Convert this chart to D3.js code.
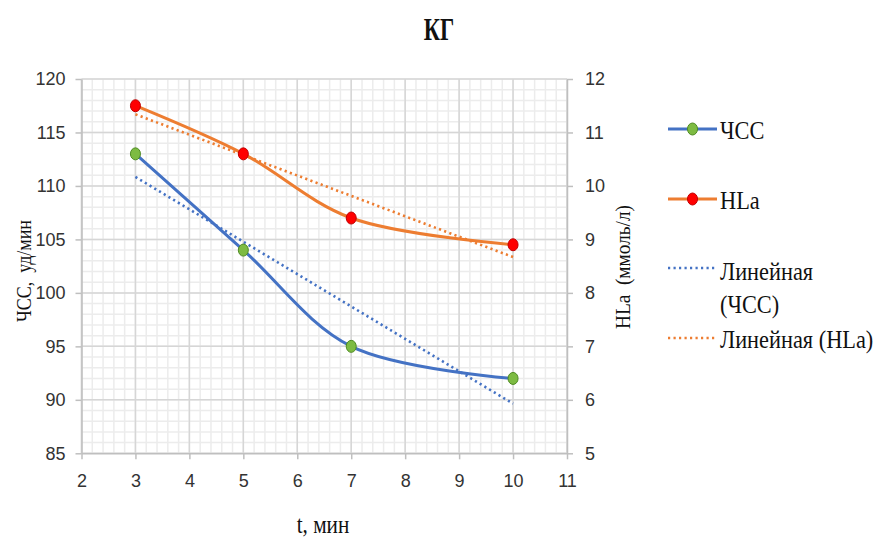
<!DOCTYPE html>
<html>
<head>
<meta charset="utf-8">
<script src="https://cdn.jsdelivr.net/npm/d3@7"></script>
<style>
  html, body { margin: 0; padding: 0; background: #fff; }
  svg { display: block; }
  svg text { white-space: pre; }
</style>
</head>
<body>
<svg id="chart" width="877" height="539"></svg>
<script>
// Time points, min
const times = [3, 5, 7, 10];
// Heart rate, beats/min (left axis)
const hrValues = [113, 104, 95, 92];
// Blood lactate, mmol/l (right axis)
const hlaValues = [11.5, 10.6, 9.4, 8.9];

const xTicks = [2, 3, 4, 5, 6, 7, 8, 9, 10, 11];
const yLeftTicks = [85, 90, 95, 100, 105, 110, 115, 120];
const yRightTicks = [5, 6, 7, 8, 9, 10, 11, 12];

const titleText = "КГ";
const xTitle = "t, мин";
const yLeftTitle = "ЧСС,  уд/мин";
const yRightTitle = "HLa  (ммоль/л)";
const legendLabels = ["ЧСС", "HLa", ["Линейная", "(ЧСС)"], "Линейная (HLa)"];

const BLUE = "#4472C4", ORANGE = "#ED7D31";
const GREEN_FILL = "#7DBB42", GREEN_STROKE = "#4E8A22";
const RED_FILL = "#FF0000", RED_STROKE = "#C00000";

const svg = d3.select("#chart");
const plot = { left: 81.5, right: 567, top: 79, bottom: 453.3 };

const x = d3.scaleLinear().domain([2, 11]).range([plot.left, plot.right]);
const yL = d3.scaleLinear().domain([85, 120]).range([plot.bottom, plot.top]);
const yR = d3.scaleLinear().domain([5, 12]).range([plot.bottom, plot.top]);

// Minor grid (five subdivisions per major step)
const minorX = d3.range(2, 11.001, 0.2);
const minorY = d3.range(85, 120.001, 1);
const grid = svg.append("g");
grid.selectAll("line.mx").data(minorX).join("line")
  .attr("x1", d => x(d)).attr("x2", d => x(d))
  .attr("y1", plot.top).attr("y2", plot.bottom)
  .attr("stroke", "#ececec").attr("stroke-width", 1.5);
grid.selectAll("line.my").data(minorY).join("line")
  .attr("x1", plot.left).attr("x2", plot.right)
  .attr("y1", d => yL(d)).attr("y2", d => yL(d))
  .attr("stroke", "#ececec").attr("stroke-width", 1.5);
// Major grid
grid.selectAll("line.MX").data(xTicks).join("line")
  .attr("x1", d => x(d)).attr("x2", d => x(d))
  .attr("y1", plot.top).attr("y2", plot.bottom)
  .attr("stroke", "#d6d6d6").attr("stroke-width", 1.5);
grid.selectAll("line.MY").data(yLeftTicks).join("line")
  .attr("x1", plot.left).attr("x2", plot.right)
  .attr("y1", d => yL(d)).attr("y2", d => yL(d))
  .attr("stroke", "#d6d6d6").attr("stroke-width", 1.5);

// Axes
const tickFont = "'Liberation Sans', Arial, sans-serif";
function styleAxis(g) {
  g.select(".domain").attr("stroke", "#bfbfbf").attr("stroke-width", 1.5);
  g.selectAll(".tick line").attr("stroke", "#bfbfbf").attr("stroke-width", 1.5);
  g.selectAll(".tick text").attr("fill", "#333")
    .style("font-family", tickFont).style("font-size", "18px");
}
svg.append("g").attr("transform", `translate(0,${plot.bottom})`)
  .call(d3.axisBottom(x).tickValues(xTicks).tickFormat(d3.format("d"))
    .tickSize(6).tickPadding(15).tickSizeOuter(0))
  .call(styleAxis);
svg.append("g").attr("transform", `translate(${plot.left},0)`)
  .call(d3.axisLeft(yL).tickValues(yLeftTicks).tickFormat(d3.format("d"))
    .tickSize(6).tickPadding(10).tickSizeOuter(0))
  .call(styleAxis);
svg.append("g").attr("transform", `translate(${plot.right},0)`)
  .call(d3.axisRight(yR).tickValues(yRightTicks).tickFormat(d3.format("d"))
    .tickSize(6).tickPadding(12).tickSizeOuter(0))
  .call(styleAxis);

// Linear trend lines (least squares)
function fit(xs, ys) {
  const mx = d3.mean(xs), my = d3.mean(ys);
  const sxy = d3.sum(xs, (v, i) => (v - mx) * (ys[i] - my));
  const sxx = d3.sum(xs, v => (v - mx) ** 2);
  const b = sxy / sxx, a = my - b * mx;
  return t => a + b * t;
}
const hrFit = fit(times, hrValues);
const hlaFit = fit(times, hlaValues);
const tEnds = [d3.min(times), d3.max(times)];

const hrPts = times.map((t, i) => [t, hrValues[i]]);
const hlaPts = times.map((t, i) => [t, hlaValues[i]]);

const smoothL = d3.line().x(d => x(d[0])).y(d => yL(d[1])).curve(d3.curveCatmullRom.alpha(0.5));
const smoothR = d3.line().x(d => x(d[0])).y(d => yR(d[1])).curve(d3.curveCatmullRom.alpha(0.5));

svg.append("path").datum(hrPts).attr("d", smoothL)
  .attr("fill", "none").attr("stroke", BLUE).attr("stroke-width", 3).attr("stroke-linecap", "round");
svg.append("path").datum(hlaPts).attr("d", smoothR)
  .attr("fill", "none").attr("stroke", ORANGE).attr("stroke-width", 3).attr("stroke-linecap", "round");

svg.append("line")
  .attr("x1", x(tEnds[0])).attr("y1", yL(hrFit(tEnds[0])))
  .attr("x2", x(tEnds[1])).attr("y2", yL(hrFit(tEnds[1])))
  .attr("stroke", BLUE).attr("stroke-width", 2.6).attr("stroke-dasharray", "2.2 3.3");
svg.append("line")
  .attr("x1", x(tEnds[0])).attr("y1", yR(hlaFit(tEnds[0])))
  .attr("x2", x(tEnds[1])).attr("y2", yR(hlaFit(tEnds[1])))
  .attr("stroke", ORANGE).attr("stroke-width", 2.6).attr("stroke-dasharray", "2.2 3.3");

// Markers
svg.selectAll("ellipse.hr").data(hrPts).join("ellipse")
  .attr("cx", d => x(d[0])).attr("cy", d => yL(d[1]))
  .attr("rx", 5).attr("ry", 6)
  .attr("fill", GREEN_FILL).attr("stroke", GREEN_STROKE).attr("stroke-width", 1);
svg.selectAll("ellipse.hla").data(hlaPts).join("ellipse")
  .attr("cx", d => x(d[0])).attr("cy", d => yR(d[1]))
  .attr("rx", 5).attr("ry", 6)
  .attr("fill", RED_FILL).attr("stroke", RED_STROKE).attr("stroke-width", 1);

// Titles
const serif = "'Liberation Serif', 'DejaVu Serif', serif";
svg.append("text").text(titleText)
  .attr("transform", "translate(439,40) scale(0.7,1)")
  .attr("text-anchor", "middle")
  .style("font-family", serif).style("font-weight", "bold").style("font-size", "32px").attr("fill", "#111");

svg.append("text").text(xTitle)
  .attr("transform", "translate(323,533) scale(0.85,1)")
  .attr("text-anchor", "middle")
  .style("font-family", serif).style("font-size", "25px").attr("fill", "#111");

svg.append("text").text(yLeftTitle)
  .attr("transform", "translate(31,271) rotate(-90) scale(0.9,1)")
  .attr("text-anchor", "middle")
  .style("font-family", serif).style("font-size", "20px").attr("fill", "#111");

svg.append("text").text(yRightTitle)
  .attr("transform", "translate(630,267) rotate(-90) scale(0.92,1)")
  .attr("text-anchor", "middle")
  .style("font-family", serif).style("font-size", "21px").attr("fill", "#111");

// Legend
const lg = svg.append("g");
const lx1 = 668, lx2 = 717, tx = 720;
const legendFont = "26px";
function legendText(str, yb) {
  lg.append("text").text(str)
    .attr("transform", `translate(${tx},${yb}) scale(0.86,1)`)
    .style("font-family", serif).style("font-size", legendFont).attr("fill", "#111");
}
lg.append("line").attr("x1", lx1).attr("x2", lx2).attr("y1", 129).attr("y2", 129)
  .attr("stroke", BLUE).attr("stroke-width", 3);
lg.append("ellipse").attr("cx", (lx1 + lx2) / 2).attr("cy", 129).attr("rx", 5).attr("ry", 6)
  .attr("fill", GREEN_FILL).attr("stroke", GREEN_STROKE);
legendText(legendLabels[0], 139);

lg.append("line").attr("x1", lx1).attr("x2", lx2).attr("y1", 199).attr("y2", 199)
  .attr("stroke", ORANGE).attr("stroke-width", 3);
lg.append("ellipse").attr("cx", (lx1 + lx2) / 2).attr("cy", 199).attr("rx", 5).attr("ry", 6)
  .attr("fill", RED_FILL).attr("stroke", RED_STROKE);
legendText(legendLabels[1], 209);

lg.append("line").attr("x1", lx1).attr("x2", lx2).attr("y1", 268).attr("y2", 268)
  .attr("stroke", BLUE).attr("stroke-width", 2.6).attr("stroke-dasharray", "2.2 3.3");
legendText(legendLabels[2][0], 280);
legendText(legendLabels[2][1], 313);

lg.append("line").attr("x1", lx1).attr("x2", lx2).attr("y1", 338).attr("y2", 338)
  .attr("stroke", ORANGE).attr("stroke-width", 2.6).attr("stroke-dasharray", "2.2 3.3");
legendText(legendLabels[3], 348);
</script>
</body>
</html>
